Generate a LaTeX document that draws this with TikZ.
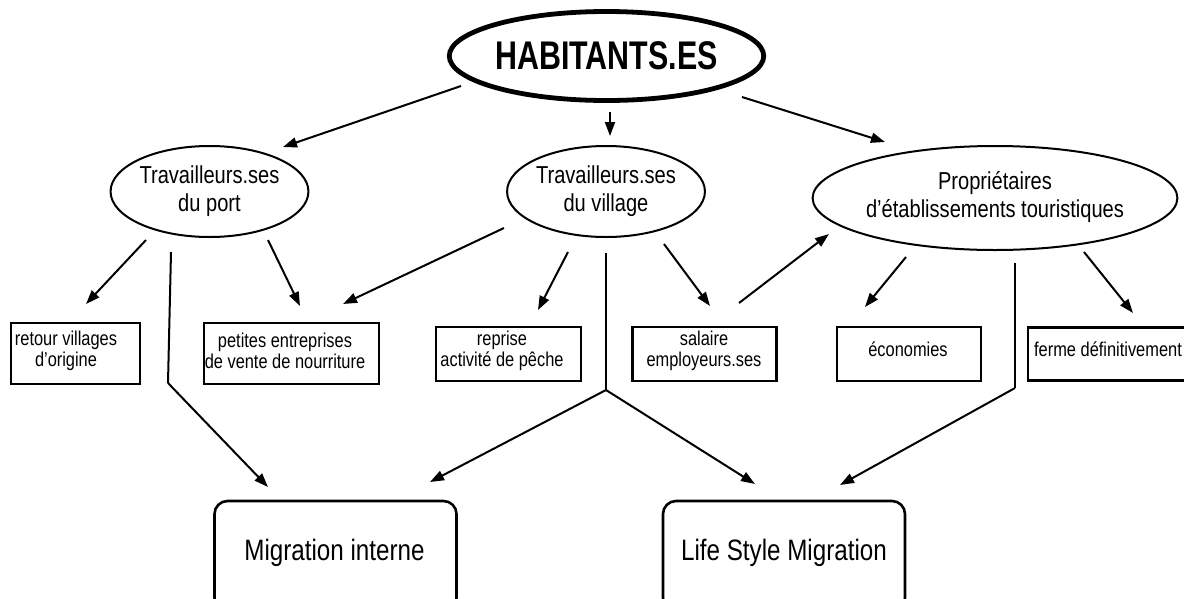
\documentclass[tikz,border=0pt]{standalone}
\usepackage{fontspec}
\setmainfont{Liberation Sans}[FakeStretch=0.82]
\newfontfamily\habfont{Liberation Sans Bold}[FakeStretch=0.76]
\usetikzlibrary{arrows.meta,shapes.geometric}
\begin{document}
\begin{tikzpicture}[x=1pt,y=-1pt,
  ell/.style={ellipse,draw,line width=2pt,inner sep=0pt,align=center,
    font=\fontsize{24.5}{28}\selectfont},
  sbox/.style={rectangle,draw,line width=2.6pt,inner sep=0pt},
  stxt/.style={inner sep=0pt,align=center,font=\fontsize{20}{20.5}\selectfont},
  mbox/.style={rectangle,draw,line width=2.6pt,rounded corners=13pt,inner sep=0pt},
  mtxt/.style={inner sep=0pt,font=\fontsize{29.5}{34}\selectfont},
  arr/.style={line width=2pt,-{Triangle[length=14pt,width=10pt]}},
  seg/.style={line width=2pt}]
\useasboundingbox (0,0) rectangle (1184,598);
\fill[white] (0,0) rectangle (1184,598);

% main nodes
\node[ellipse,draw,line width=4.8pt,inner sep=0pt,minimum width=292pt,minimum height=89pt,
  font=\fontsize{40}{44}\habfont] (hab) at (606.5,56) {HABITANTS.ES};
\node[ell,minimum width=195pt,minimum height=91pt] (port) at (209.5,191.5) {Travailleurs.ses\\du port};
\node[ell,minimum width=196pt,minimum height=91pt] (vil) at (606,191.5) {Travailleurs.ses\\du village};
\node[ell,minimum width=324pt,minimum height=104pt] (prop) at (995,198)
  {\raisebox{5pt}{\begin{tabular}{@{}c@{}}Propriétaires\\d’établissements touristiques\end{tabular}}};

% boxes
\node[sbox,minimum width=129pt,minimum height=61pt] (retour) at (75.5,353.5) {};
\node[stxt] (retourT) at (66,351) {retour villages\\d’origine};
\node[sbox,minimum width=175pt,minimum height=61pt] (pet) at (291.5,353.5) {};
\node[stxt] (petT) at (285,351) {petites entreprises\\de vente de nourriture};
\node[sbox,minimum width=145pt,minimum height=54pt] (rep) at (508.5,354) {};
\node[stxt] (repT) at (502,351) {reprise\\activité de pêche};
\node[sbox,minimum width=144pt,minimum height=54pt] (sal) at (704.5,354) {};
\node[stxt] (salT) at (704,351) {salaire\\employeurs.ses};
\node[sbox,minimum width=144pt,minimum height=54pt] (eco) at (909,354) {};
\node[stxt] (ecoT) at (908,349) {économies};
\node[sbox,minimum width=164pt,minimum height=53pt] (fer) at (1110,354) {};
\node[stxt] (ferT) at (1108,349) {ferme définitivement};

% migration boxes
\node[mbox,minimum width=242pt,minimum height=110pt] (mi) at (335.5,556) {};
\node[mtxt] (miT) at (334.5,553) {Migration interne};
\node[mbox,minimum width=242pt,minimum height=110pt] (ls) at (784,556) {};
\node[mtxt] (lsT) at (784,553) {Life Style Migration};

% connector coordinates
\coordinate (a1s) at (461,86);   \coordinate (a1e) at (283,147);
\coordinate (a2s) at (610,112);  \coordinate (a2e) at (610,136);
\coordinate (a3s) at (742,97);   \coordinate (a3e) at (885,142);
\coordinate (b1s) at (146,240);  \coordinate (b1e) at (86,304);
\coordinate (b2s) at (171,252);  \coordinate (b2m) at (168,383); \coordinate (b2e) at (268,487);
\coordinate (b3s) at (268,240);  \coordinate (b3e) at (300,306);
\coordinate (c1s) at (504,228);  \coordinate (c1e) at (343,304);
\coordinate (c2s) at (568,252);  \coordinate (c2e) at (538,310);
\coordinate (c3s) at (664,244);  \coordinate (c3e) at (710,306);
\coordinate (c4s) at (606,253);  \coordinate (c4m) at (606,390);
\coordinate (c4e) at (430,482);  \coordinate (c4f) at (755,484);
\coordinate (d1s) at (739,303);  \coordinate (d1e) at (829,234);
\coordinate (e1s) at (906,257);  \coordinate (e1e) at (865,307);
\coordinate (e2s) at (1015,263); \coordinate (e2m) at (1015,388); \coordinate (e2e) at (840,485);
\coordinate (e3s) at (1084,252); \coordinate (e3e) at (1133,313);

% connectors
\draw[arr] (a1s) -- (a1e);
\draw[arr] (a2s) -- (a2e);
\draw[arr] (a3s) -- (a3e);
\draw[arr] (b1s) -- (b1e);
\draw[seg] (b2s) -- (b2m);
\draw[arr] (b2m) -- (b2e);
\draw[arr] (b3s) -- (b3e);
\draw[arr] (c1s) -- (c1e);
\draw[arr] (c2s) -- (c2e);
\draw[arr] (c3s) -- (c3e);
\draw[seg] (c4s) -- (c4m);
\draw[arr] (c4m) -- (c4e);
\draw[arr] (c4m) -- (c4f);
\draw[arr] (d1s) -- (d1e);
\draw[arr] (e1s) -- (e1e);
\draw[seg] (e2s) -- (e2m);
\draw[arr] (e2m) -- (e2e);
\draw[arr] (e3s) -- (e3e);
\end{tikzpicture}
\end{document}
